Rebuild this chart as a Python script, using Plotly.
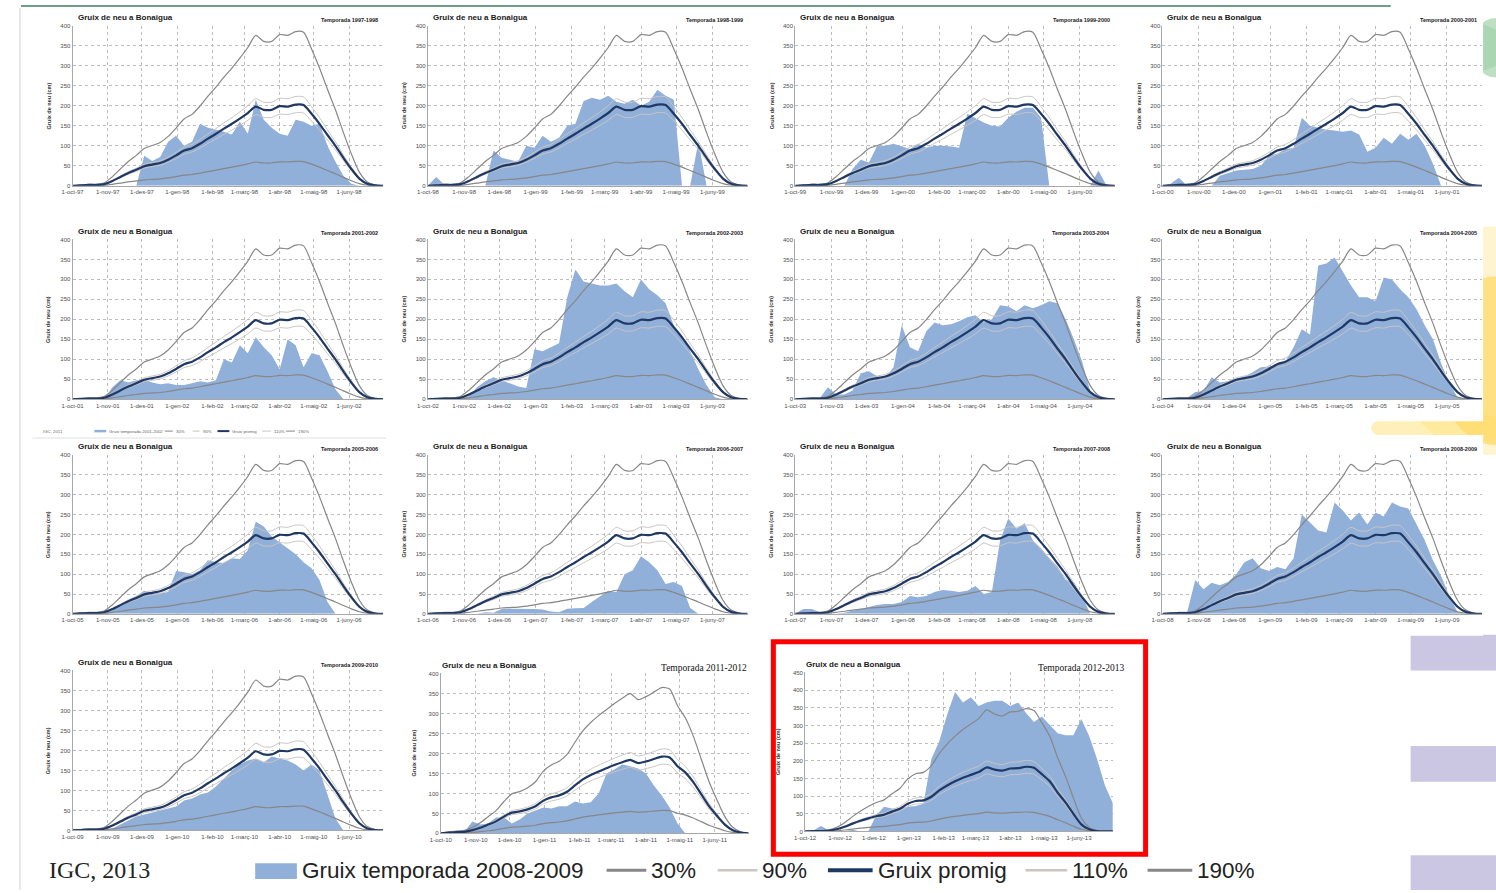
import plotly.graph_objects as go

W, H = 1496, 893

# ---------------- data ----------------
MONTH_START_DAYS = [0, 31, 61, 92, 123, 151, 182, 212, 243, 273]
MONTH_LABELS = ["oct", "nov", "des", "gen", "feb", "març", "abr", "maig", "juny"]
SAMPLE_STEP_DAYS = 7  # one reading per week, 1-oct ... 1-jul

# average snow depth (cm), weekly
MEAN_1997_2010 = [0, 1, 2, 2, 4, 12, 22, 32, 40, 49, 53, 57, 65, 76, 88, 94, 105, 118, 130, 143,
                  155, 168, 182, 198, 190, 190, 199, 198, 203, 202, 180, 155, 127, 100, 70, 42, 18, 5, 1, 0]
MEAN_2011_2012 = [0, 2, 3, 4, 8, 14, 22, 30, 42, 52, 55, 60, 68, 82, 90, 95, 104, 120, 135, 146,
                  155, 163, 171, 178, 184, 176, 180, 186, 192, 190, 168, 152, 128, 98, 68, 44, 22, 8, 2, 0]
MEAN_2012_2013 = [0, 1, 1, 2, 6, 13, 22, 30, 37, 43, 47, 56, 64, 78, 86, 88, 98, 116, 130, 142,
                  152, 160, 168, 181, 175, 172, 178, 179, 183, 180, 162, 142, 110, 82, 50, 20, 6, 1, 0, 0]

PERCENT_LABELS = ["30%", "90%", "110%", "190%"]
PERCENT_FACTORS = [0.30, 0.90, 1.10, 1.90]

SEASON_LABELS = ["1997-1998", "1998-1999", "1999-2000", "2000-2001", "2001-2002", "2002-2003",
                 "2003-2004", "2004-2005", "2005-2006", "2006-2007", "2007-2008", "2008-2009",
                 "2009-2010", "2011-2012", "2012-2013"]
TICK_YEARS = [("97", "98"), ("98", "99"), ("99", "00"), ("00", "01"), ("01", "02"), ("02", "03"),
              ("03", "04"), ("04", "05"), ("05", "06"), ("06", "07"), ("07", "08"), ("08", "09"),
              ("09", "10"), ("10", "11"), ("12", "13")]

# season snow depth (cm), weekly from 1-oct
S_1997_1998 = [0, 2, 4, 2, 0, 0, 0, 0, 0, 75, 62, 72, 110, 125, 100, 110, 155, 145, 140, 135,
               128, 160, 130, 215, 165, 145, 130, 125, 165, 160, 150, 155, 100, 60, 25, 5, 0, 0, 0, 0]
S_1998_1999 = [0, 22, 3, 2, 0, 0, 0, 0, 88, 70, 65, 60, 100, 95, 125, 110, 120, 150, 155, 212,
               220, 215, 225, 210, 205, 215, 200, 210, 240, 225, 215, 0, 0, 110, 0, 0, 0, 0, 0, 0]
S_1999_2000 = [0, 3, 3, 2, 0, 0, 0, 42, 65, 58, 100, 100, 105, 98, 92, 105, 95, 100, 100, 98,
               95, 180, 168, 158, 150, 148, 170, 185, 195, 195, 170, 0, 0, 0, 0, 0, 0, 38, 0, 0]
S_2000_2001 = [0, 5, 20, 0, 0, 0, 0, 25, 32, 38, 40, 42, 50, 75, 80, 92, 95, 170, 150, 145,
               140, 138, 135, 138, 128, 85, 95, 120, 105, 130, 115, 130, 100, 55, 0, 0, 0, 0, 0, 0]
S_2001_2002 = [0, 2, 3, 2, 0, 30, 48, 42, 48, 50, 42, 38, 40, 36, 36, 40, 45, 42, 48, 100,
               92, 135, 115, 155, 130, 110, 75, 150, 135, 80, 115, 110, 70, 25, 0, 0, 0, 0, 0, 0]
S_2002_2003 = [0, 2, 3, 2, 0, 8, 30, 45, 55, 48, 40, 32, 28, 125, 120, 130, 140, 255, 325, 295,
               290, 285, 285, 290, 270, 255, 300, 275, 260, 240, 185, 160, 120, 75, 35, 5, 0, 0, 0, 0]
S_2003_2004 = [0, 3, 3, 3, 30, 12, 12, 22, 65, 70, 58, 55, 80, 185, 130, 120, 170, 192, 185, 188,
               195, 205, 210, 192, 200, 235, 232, 220, 235, 228, 235, 245, 240, 200, 150, 95, 20, 0, 0, 0]
S_2004_2005 = [0, 3, 3, 3, 18, 20, 55, 42, 45, 52, 58, 68, 80, 82, 85, 95, 130, 175, 162, 335,
               340, 355, 320, 285, 255, 255, 245, 305, 300, 275, 255, 225, 185, 150, 90, 40, 5, 0, 0, 0]
S_2005_2006 = [0, 3, 3, 2, 0, 10, 25, 35, 45, 58, 52, 52, 55, 108, 105, 100, 110, 135, 130, 128,
               140, 138, 160, 232, 220, 195, 180, 165, 150, 130, 115, 85, 30, 0, 0, 0, 0, 0, 0, 0]
S_2006_2007 = [0, 3, 3, 2, 0, 0, 0, 4, 3, 12, 13, 13, 12, 12, 11, 6, 4, 13, 14, 15,
               30, 45, 58, 55, 100, 110, 145, 130, 110, 75, 80, 70, 15, 0, 0, 0, 0, 0, 0, 0]
S_2007_2008 = [0, 12, 12, 5, 0, 0, 3, 8, 12, 18, 22, 25, 25, 30, 45, 42, 45, 55, 60, 58,
               55, 58, 70, 50, 55, 185, 240, 215, 228, 185, 165, 140, 120, 85, 80, 45, 0, 0, 0, 0]
S_2008_2009 = [0, 3, 3, 3, 85, 62, 78, 72, 80, 100, 130, 140, 115, 108, 118, 112, 140, 250, 230, 210,
               205, 280, 260, 235, 255, 225, 255, 245, 280, 270, 265, 225, 185, 135, 95, 45, 5, 0, 0, 0]
S_2009_2010 = [0, 2, 3, 2, 0, 5, 15, 25, 35, 40, 45, 50, 55, 60, 75, 80, 90, 95, 110, 130,
               150, 165, 175, 180, 170, 185, 180, 175, 165, 150, 165, 150, 90, 30, 0, 0, 0, 0, 0, 0]
S_2011_2012 = [0, 0, 0, 5, 30, 22, 25, 40, 40, 25, 35, 50, 58, 65, 62, 68, 68, 80, 75, 78,
               100, 150, 160, 172, 168, 162, 150, 120, 95, 65, 25, 0, 0, 0, 0, 0, 0, 0, 0, 0]
S_2012_2013 = [0, 2, 15, 3, 0, 0, 5, 0, 0, 45, 70, 65, 65, 70, 72, 78, 205, 255, 330, 395,
               365, 380, 355, 365, 370, 370, 355, 365, 335, 310, 325, 300, 278, 272, 272, 318, 270, 205, 130, 80]

SEASON_DEPTHS = [S_1997_1998, S_1998_1999, S_1999_2000, S_2000_2001, S_2001_2002, S_2002_2003,
                 S_2003_2004, S_2004_2005, S_2005_2006, S_2006_2007, S_2007_2008, S_2008_2009,
                 S_2009_2010, S_2011_2012, S_2012_2013]
SEASON_MEANS = [MEAN_1997_2010] * 13 + [MEAN_2011_2012, MEAN_2012_2013]
Y_MAX = [400] * 14 + [450]

# ---------------- style / geometry ----------------
SANS = "Liberation Sans, Arial, sans-serif"
NARROW = "Liberation Sans Narrow, Arial Narrow, Liberation Sans, sans-serif"
SERIF = "Liberation Serif, Times New Roman, serif"
BLUE = "#90afd9"
NAVY = "#1f3864"
GRAY = "#878787"
LIGHT = "#c9c5c2"

COLS = [(62, 375), (420, 742), (790, 1112), (1160, 1482)]
ROWS = [(23, 184), (238, 399), (455, 615), (672, 833)]
GEOM = []
for i in range(13):
    r, c = divmod(i, 4)
    GEOM.append((COLS[c][0], COLS[c][1], ROWS[r][0], ROWS[r][1]))
GEOM.append((433, 743, 675, 836))
GEOM.append((800, 1110, 674, 834))
SERIF_TITLE_RIGHT = {13: 743, 14: 1123}


def fx(x):
    return x / W


def fy(y):
    return 1 - y / H


fig = go.Figure()
shapes = []
annotations = []
layout = dict(width=W, height=H, margin=dict(l=0, r=0, t=0, b=0),
              paper_bgcolor="white", plot_bgcolor="white", showlegend=False)

# background decorations
for cx, cy, rx, ry, col in [
    (1490, 340, 100, 115, "rgba(255,224,120,0.35)"),
    (1496, 360, 60, 85, "rgba(255,210,70,0.55)"),
    (1440, 428, 70, 18, "rgba(255,222,100,0.45)"),
    (1450, 45, 60, 28, "rgba(150,205,160,0.35)"),
    (1496, 45, 25, 30, "rgba(110,185,125,0.45)"),
]:
    shapes.append(dict(type="circle", xref="paper", yref="paper", layer="below",
                       x0=fx(cx - rx), x1=fx(cx + rx), y0=fy(cy + ry), y1=fy(cy - ry),
                       fillcolor=col, line=dict(width=0)))
for y0, y1 in [(636, 672), (748, 784), (858, 893)]:
    shapes.append(dict(type="rect", xref="paper", yref="paper", layer="below",
                       x0=fx(1410), x1=fx(1496), y0=fy(y1), y1=fy(y0),
                       fillcolor="#cbc6e1", line=dict(width=0)))
shapes.append(dict(type="line", xref="paper", yref="paper", x0=fx(10), x1=fx(1390),
                   y0=fy(3), y1=fy(3), line=dict(color="#3f7f62", width=1.5)))
shapes.append(dict(type="line", xref="paper", yref="paper", x0=fx(9), x1=fx(9),
                   y0=fy(5), y1=fy(893), line=dict(color="#d0d0d0", width=1)))

for i, (depth, mean, season, (ya, yb), ymax, (xl, xr, yt, ybot)) in enumerate(
        zip(SEASON_DEPTHS, SEASON_MEANS, SEASON_LABELS, TICK_YEARS, Y_MAX, GEOM)):
    n = "" if i == 0 else str(i + 1)
    days = [k * SAMPLE_STEP_DAYS for k in range(len(depth))]
    # white panel card
    bottom_extra = 40 if i == 4 else 22
    shapes.append(dict(type="rect", xref="paper", yref="paper", layer="below",
                       x0=fx(xl - 40), x1=fx(xr + 1), y0=fy(ybot + bottom_extra), y1=fy(yt - 20),
                       fillcolor="white", line=dict(width=0)))
    fig.add_trace(go.Scatter(x=days, y=depth, mode="lines", fill="tozeroy", fillcolor=BLUE,
                             line=dict(width=0, shape="linear", color=BLUE),
                             xaxis="x" + n, yaxis="y" + n, hoverinfo="skip"))
    for lab, fac in zip(PERCENT_LABELS, PERCENT_FACTORS):
        col = LIGHT if lab in ("90%", "110%") else GRAY
        wid = 1.0 if lab in ("90%", "110%") else 1.2
        fig.add_trace(go.Scatter(x=days, y=[m * fac for m in mean], mode="lines",
                                 line=dict(color=col, width=wid, shape="spline", smoothing=0.7),
                                 xaxis="x" + n, yaxis="y" + n, hoverinfo="skip"))
    fig.add_trace(go.Scatter(x=days, y=mean, mode="lines",
                             line=dict(color=NAVY, width=2.2, shape="spline", smoothing=0.7),
                             xaxis="x" + n, yaxis="y" + n, hoverinfo="skip"))

    ticktext = []
    for j, m in enumerate(MONTH_LABELS):
        ticktext.append(f"1-{m}-{ya if j < 3 else yb}")
    ticktext.append("")
    grid = dict(showgrid=True, gridcolor="#bdbdbd", griddash="dot", gridwidth=1,
                showline=True, linecolor="#a8a8a8", linewidth=1, ticks="", zeroline=False,
                fixedrange=True, tickfont=dict(size=6, color="#4d4d4d", family=SANS))
    layout["xaxis" + n] = dict(domain=[fx(xl), fx(xr)], range=[0, 273], tickvals=MONTH_START_DAYS,
                               ticktext=ticktext, anchor="y" + n, **grid)
    layout["yaxis" + n] = dict(domain=[fy(ybot), fy(yt)], range=[0, ymax], tick0=0, dtick=50,
                               anchor="x" + n, **grid)

    # titles
    if i < 13:
        annotations.append(dict(xref="paper", yref="paper", x=fx(xl + 3), y=fy(yt - 8),
                                xanchor="left", yanchor="middle", showarrow=False,
                                text="<b>Gruix de neu a Bonaigua</b>",
                                font=dict(size=8, family=SANS, color="#1a1a1a")))
        annotations.append(dict(xref="paper", yref="paper", x=fx(xr - 3), y=fy(yt - 6),
                                xanchor="right", yanchor="middle", showarrow=False,
                                text=f"<b>Temporada {season}</b>",
                                font=dict(size=5.5, family=SANS, color="#1a1a1a")))
        ytx = xl - 24
    else:
        annotations.append(dict(xref="paper", yref="paper", x=fx(xl - 1), y=fy(yt - 8),
                                xanchor="left", yanchor="middle", showarrow=False,
                                text="<b>Gruix de neu a Bonaigua</b>",
                                font=dict(size=8, family=SANS, color="#1a1a1a")))
        annotations.append(dict(xref="paper", yref="paper", x=fx(SERIF_TITLE_RIGHT[i]), y=fy(yt - 5),
                                xanchor="right", yanchor="middle", showarrow=False,
                                text=f"Temporada {season}",
                                font=dict(size=9.5, family=SERIF, color="#111")))
        ytx = xl - 27
    annotations.append(dict(xref="paper", yref="paper", x=fx(ytx), y=fy((yt + ybot) / 2),
                            xanchor="center", yanchor="middle", showarrow=False, textangle=-90,
                            text="<b>Gruix de neu (cm)</b>",
                            font=dict(size=5.5, family=SANS, color="#333")))

# small legend under 2001-2002 panel
SMALL_Y = 431
annotations.append(dict(xref="paper", yref="paper", x=fx(30), y=fy(SMALL_Y), xanchor="left",
                        yanchor="middle", showarrow=False, text="IGC, 2011",
                        font=dict(size=4.3, family=SANS, color="#666")))
small_items = [(84, 96, BLUE, 2.5, "Gruix temporada 2001-2002"), (155, 163, GRAY, 1, "30%"),
               (183, 190, LIGHT, 1, "90%"), (208, 220, NAVY, 2, "Gruix promig"),
               (253, 262, LIGHT, 1, "110%"), (277, 286, GRAY, 1, "190%")]
for x0, x1, col, wid, txt in small_items:
    shapes.append(dict(type="line", xref="paper", yref="paper", x0=fx(x0), x1=fx(x1),
                       y0=fy(SMALL_Y), y1=fy(SMALL_Y), line=dict(color=col, width=wid)))
    annotations.append(dict(xref="paper", yref="paper", x=fx(x1 + 1), y=fy(SMALL_Y), xanchor="left",
                            yanchor="middle", showarrow=False, text=txt,
                            font=dict(size=4.3, family=SANS, color="#666")))
shapes.append(dict(type="line", xref="paper", yref="paper", x0=fx(22), x1=fx(378),
                   y0=fy(438), y1=fy(438), line=dict(color="#e0e0e0", width=1)))

# red highlight box
shapes.append(dict(type="rect", xref="paper", yref="paper", x0=fx(768), x1=fx(1143),
                   y0=fy(857), y1=fy(643), line=dict(color="#ff0000", width=5)))

# bottom legend
LEG_Y = 873
LEG_SIZE = 22.5
annotations.append(dict(xref="paper", yref="paper", x=fx(36), y=fy(LEG_Y), xanchor="left",
                        yanchor="middle", showarrow=False, text="IGC, 2013",
                        font=dict(size=24, family=SERIF, color="#222")))
shapes.append(dict(type="rect", xref="paper", yref="paper", x0=fx(246), x1=fx(288),
                   y0=fy(882), y1=fy(866), fillcolor=BLUE, line=dict(width=0)))
annotations.append(dict(xref="paper", yref="paper", x=fx(291), y=fy(LEG_Y), xanchor="left",
                        yanchor="middle", showarrow=False, text="Gruix temporada 2008-2009",
                        font=dict(size=LEG_SIZE, family=NARROW, color="#222")))
big_items = [(600, 640, GRAY, 3, "30%"), (712, 752, LIGHT, 2.5, "90%"),
             (823, 868, NAVY, 4, "Gruix promig"), (1022, 1064, LIGHT, 2.5, "110%"),
             (1145, 1190, GRAY, 3, "190%")]
for x0, x1, col, wid, txt in big_items:
    shapes.append(dict(type="line", xref="paper", yref="paper", x0=fx(x0), x1=fx(x1),
                       y0=fy(LEG_Y), y1=fy(LEG_Y), line=dict(color=col, width=wid)))
    annotations.append(dict(xref="paper", yref="paper", x=fx(x1 + 3), y=fy(LEG_Y), xanchor="left",
                            yanchor="middle", showarrow=False, text=txt,
                            font=dict(size=LEG_SIZE, family=NARROW, color="#222")))

layout["shapes"] = shapes
layout["annotations"] = annotations
fig.update_layout(**layout)
fig.write_html("out.html", config={"displayModeBar": False, "staticPlot": True},
               post_script="document.body.style.margin='0px';document.body.style.overflow='hidden';")
